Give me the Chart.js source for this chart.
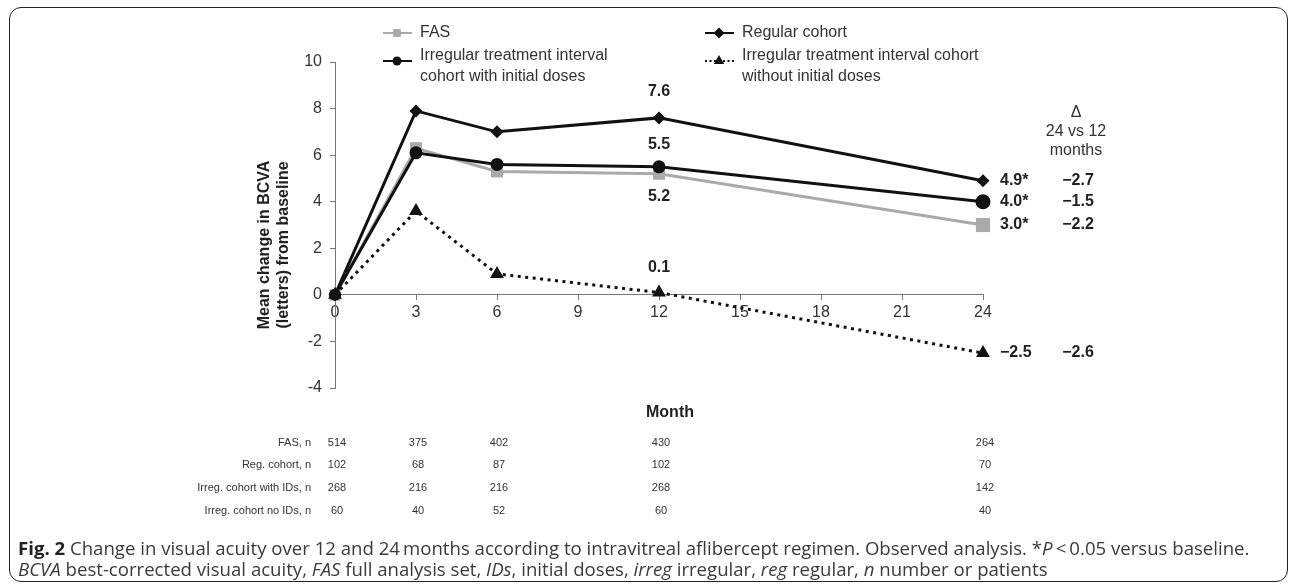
<!DOCTYPE html>
<html>
<head>
<meta charset="utf-8">
<script src="https://cdn.jsdelivr.net/npm/chart.js@4.4.0/dist/chart.umd.min.js"></script>
<style>
  html, body { margin: 0; padding: 0; background: #fff; }
  #wrap { position: relative; width: 1292px; height: 588px; overflow: hidden; }
  #myChart { position: absolute; left: 0; top: 0; }
  #frame { position: absolute; left: 9px; top: 7px; width: 1277px; height: 573px;
           border: 1.5px solid #222; border-radius: 12px; pointer-events: none; }
  .cap { position: absolute; left: 18px; font-family: "Open Sans", sans-serif; font-size: 18.6px;
         line-height: 22px; color: #3a3a3a; white-space: nowrap; }
  .cap b { color: #222; }
</style>
</head>
<body>
<div id="wrap">
  <canvas id="myChart" width="1292" height="588"></canvas>
  <div id="frame"></div>
  <div class="cap" style="top:537px"><b>Fig. 2</b> Change in visual acuity over 12 and 24&#8201;months according to intravitreal aflibercept regimen. Observed analysis. *<i>P</i>&#8201;&lt;&#8201;0.05 versus baseline.</div>
  <div class="cap" style="top:558px"><i>BCVA</i> best-corrected visual acuity, <i>FAS</i> full analysis set, <i>IDs</i>, initial doses, <i>irreg</i> irregular, <i>reg</i> regular, <i>n</i> number or patients</div>
</div>
<script>
// data
const months = [0, 3, 6, 12, 24];
const fasValues = [0, 6.3, 5.3, 5.2, 3.0];
const regularValues = [0, 7.9, 7.0, 7.6, 4.9];
const irregIdValues = [0, 6.1, 5.6, 5.5, 4.0];
const irregNoIdValues = [0, 3.6, 0.9, 0.1, -2.5];

const seriesNames = [
  ['FAS'],
  ['Regular cohort'],
  ['Irregular treatment interval', 'cohort with initial doses'],
  ['Irregular treatment interval cohort', 'without initial doses']
];
const month12Labels = ['5.2', '7.6', '5.5', '0.1'];
const endLabels = ['3.0*', '4.9*', '4.0*', '\u22122.5'];
const deltaLabels = ['\u22122.2', '\u22122.7', '\u22121.5', '\u22122.6'];
const deltaHeader = ['\u0394', '24 vs 12', 'months'];
const yTitle = ['Mean change in BCVA', '(letters) from baseline'];
const xTitle = 'Month';

const nRowLabels = ['FAS, n', 'Reg. cohort, n', 'Irreg. cohort with IDs, n', 'Irreg. cohort no IDs, n'];
const nFas = [514, 375, 402, 430, 264];
const nRegular = [102, 68, 87, 102, 70];
const nIrregId = [268, 216, 216, 268, 142];
const nIrregNoId = [60, 40, 52, 60, 40];

const allValues = [fasValues, regularValues, irregIdValues, irregNoIdValues];
const nTable = [nFas, nRegular, nIrregId, nIrregNoId];

function pts(vals) {
  return months.map(function (m, i) { return { x: m, y: vals[i] }; });
}

const sans = '"Liberation Sans", Arial, sans-serif';
const narrow = '"Liberation Sans Narrow", "Liberation Sans", Arial, sans-serif';

// legend, axis titles, value labels and the n table
const extras = {
  id: 'extras',
  afterDraw(chart) {
    const ctx = chart.ctx;
    const xs = chart.scales.x;
    const ys = chart.scales.y;
    const area = chart.chartArea;
    ctx.save();

    // legend
    const legendX = [383, 705, 383, 705];
    const markY = [33, 33, 61, 61];
    const textY = [33, 33, 56, 56];
    const legendRadius = [5.5, 5.5, 4.5, 6];
    chart.data.datasets.forEach(function (ds, i) {
      const lx = legendX[i], ly = markY[i];
      ctx.strokeStyle = ds.borderColor;
      ctx.lineWidth = 2;
      ctx.setLineDash(ds.borderDash ? [2, 2.5] : []);
      ctx.beginPath();
      ctx.moveTo(lx, ly);
      ctx.lineTo(lx + 29, ly);
      ctx.stroke();
      ctx.setLineDash([]);
      ctx.fillStyle = ds.backgroundColor;
      Chart.helpers.drawPoint(ctx, { pointStyle: ds.pointStyle, radius: legendRadius[i], rotation: 0, borderWidth: 0 }, lx + 14, ly);
      ctx.fillStyle = '#333';
      ctx.font = '16px ' + sans;
      ctx.textAlign = 'left';
      ctx.textBaseline = 'middle';
      seriesNames[i].forEach(function (line, k) {
        ctx.fillText(line, lx + 37, textY[i] + k * 21);
      });
    });

    // y title
    ctx.save();
    ctx.translate(265, 245);
    ctx.rotate(-Math.PI / 2);
    ctx.font = 'bold 16px ' + sans;
    ctx.fillStyle = '#222';
    ctx.textAlign = 'center';
    yTitle.forEach(function (line, k) { ctx.fillText(line, 0, k * 19); });
    ctx.restore();

    // values at month 12
    const offs12 = [23, -26, -22, -25];
    ctx.font = 'bold 16px ' + sans;
    ctx.fillStyle = '#222';
    ctx.textAlign = 'center';
    ctx.textBaseline = 'middle';
    allValues.forEach(function (vals, i) {
      const px = xs.getPixelForValue(months[3]);
      const py = ys.getPixelForValue(vals[3]);
      ctx.fillText(month12Labels[i], px, py + offs12[i]);
    });

    // values at month 24 and the 24 vs 12 change
    const xEnd = xs.getPixelForValue(months[4]);
    allValues.forEach(function (vals, i) {
      const py = ys.getPixelForValue(vals[4]);
      ctx.textAlign = 'left';
      ctx.fillText(endLabels[i], xEnd + 17, py);
      ctx.textAlign = 'center';
      ctx.fillText(deltaLabels[i], xEnd + 95, py);
    });
    ctx.font = '16px ' + sans;
    ctx.fillStyle = '#333';
    deltaHeader.forEach(function (t, k) {
      ctx.fillText(t, xEnd + 93, 113 + k * 19);
    });

    // x title
    ctx.font = 'bold 16px ' + sans;
    ctx.fillStyle = '#222';
    ctx.fillText(xTitle, (area.left + area.right) / 2 + 11, 413);

    // n table
    const rowY = [443, 465, 488, 511];
    ctx.font = '11px ' + narrow;
    ctx.fillStyle = '#333';
    nRowLabels.forEach(function (lab, r) {
      ctx.textAlign = 'right';
      ctx.fillText(lab, 311, rowY[r]);
      ctx.textAlign = 'center';
      nTable[r].forEach(function (v, j) {
        ctx.fillText(String(v), xs.getPixelForValue(months[j]) + 2, rowY[r]);
      });
    });
    ctx.restore();
  }
};

const ctx = document.getElementById('myChart').getContext('2d');

const bcvaChart = new Chart(ctx, {
  type: 'line',
  data: {
    datasets: [{
      label: seriesNames[0].join(' '),
      data: pts(fasValues),
      borderColor: '#aaaaaa',
      backgroundColor: '#aaaaaa',
      borderWidth: 3,
      pointStyle: 'rect',
      pointRadius: [8, 8.5, 8.5, 8.5, 10],
      pointBorderWidth: 0,
      clip: false,
      order: 4
    }, {
      label: seriesNames[1].join(' '),
      data: pts(regularValues),
      borderColor: '#111111',
      backgroundColor: '#111111',
      borderWidth: 3,
      pointStyle: 'rectRot',
      pointRadius: 6.5,
      pointBorderWidth: 0,
      clip: false,
      order: 1
    }, {
      label: seriesNames[2].join(' '),
      data: pts(irregIdValues),
      borderColor: '#111111',
      backgroundColor: '#111111',
      borderWidth: 3,
      pointStyle: 'circle',
      pointRadius: [6, 6.5, 6.5, 6.5, 7.5],
      pointBorderWidth: 0,
      clip: false,
      order: 2
    }, {
      label: seriesNames[3].join(' '),
      data: pts(irregNoIdValues),
      borderColor: '#111111',
      backgroundColor: '#111111',
      borderWidth: 3,
      borderDash: [3, 4.5],
      pointStyle: 'triangle',
      pointRadius: 8,
      pointBorderWidth: 0,
      clip: false,
      order: 3
    }]
  },
  options: {
    responsive: false,
    animation: false,
    layout: { padding: { left: 245, right: 309, top: 62, bottom: 200 } },
    plugins: { legend: { display: false }, tooltip: { enabled: false } },
    elements: { line: { tension: 0 } },
    scales: {
      x: {
        type: 'linear',
        position: { y: 0 },
        min: 0,
        max: 24,
        ticks: { stepSize: 3, color: '#333', padding: 3, font: { size: 16, family: narrow } },
        grid: { display: true, drawOnChartArea: false, drawTicks: true, tickLength: 5, color: '#777' },
        border: { display: true, color: '#777', width: 1 }
      },
      y: {
        min: -4,
        max: 10,
        ticks: { stepSize: 2, color: '#333', padding: 8, font: { size: 16, family: narrow } },
        grid: { display: true, drawOnChartArea: false, drawTicks: true, tickLength: 5, color: '#777' },
        border: { display: true, color: '#777', width: 1 },
        afterFit: function (scale) { scale.width = 90; }
      }
    }
  },
  plugins: [extras]
});
</script>
</body>
</html>
